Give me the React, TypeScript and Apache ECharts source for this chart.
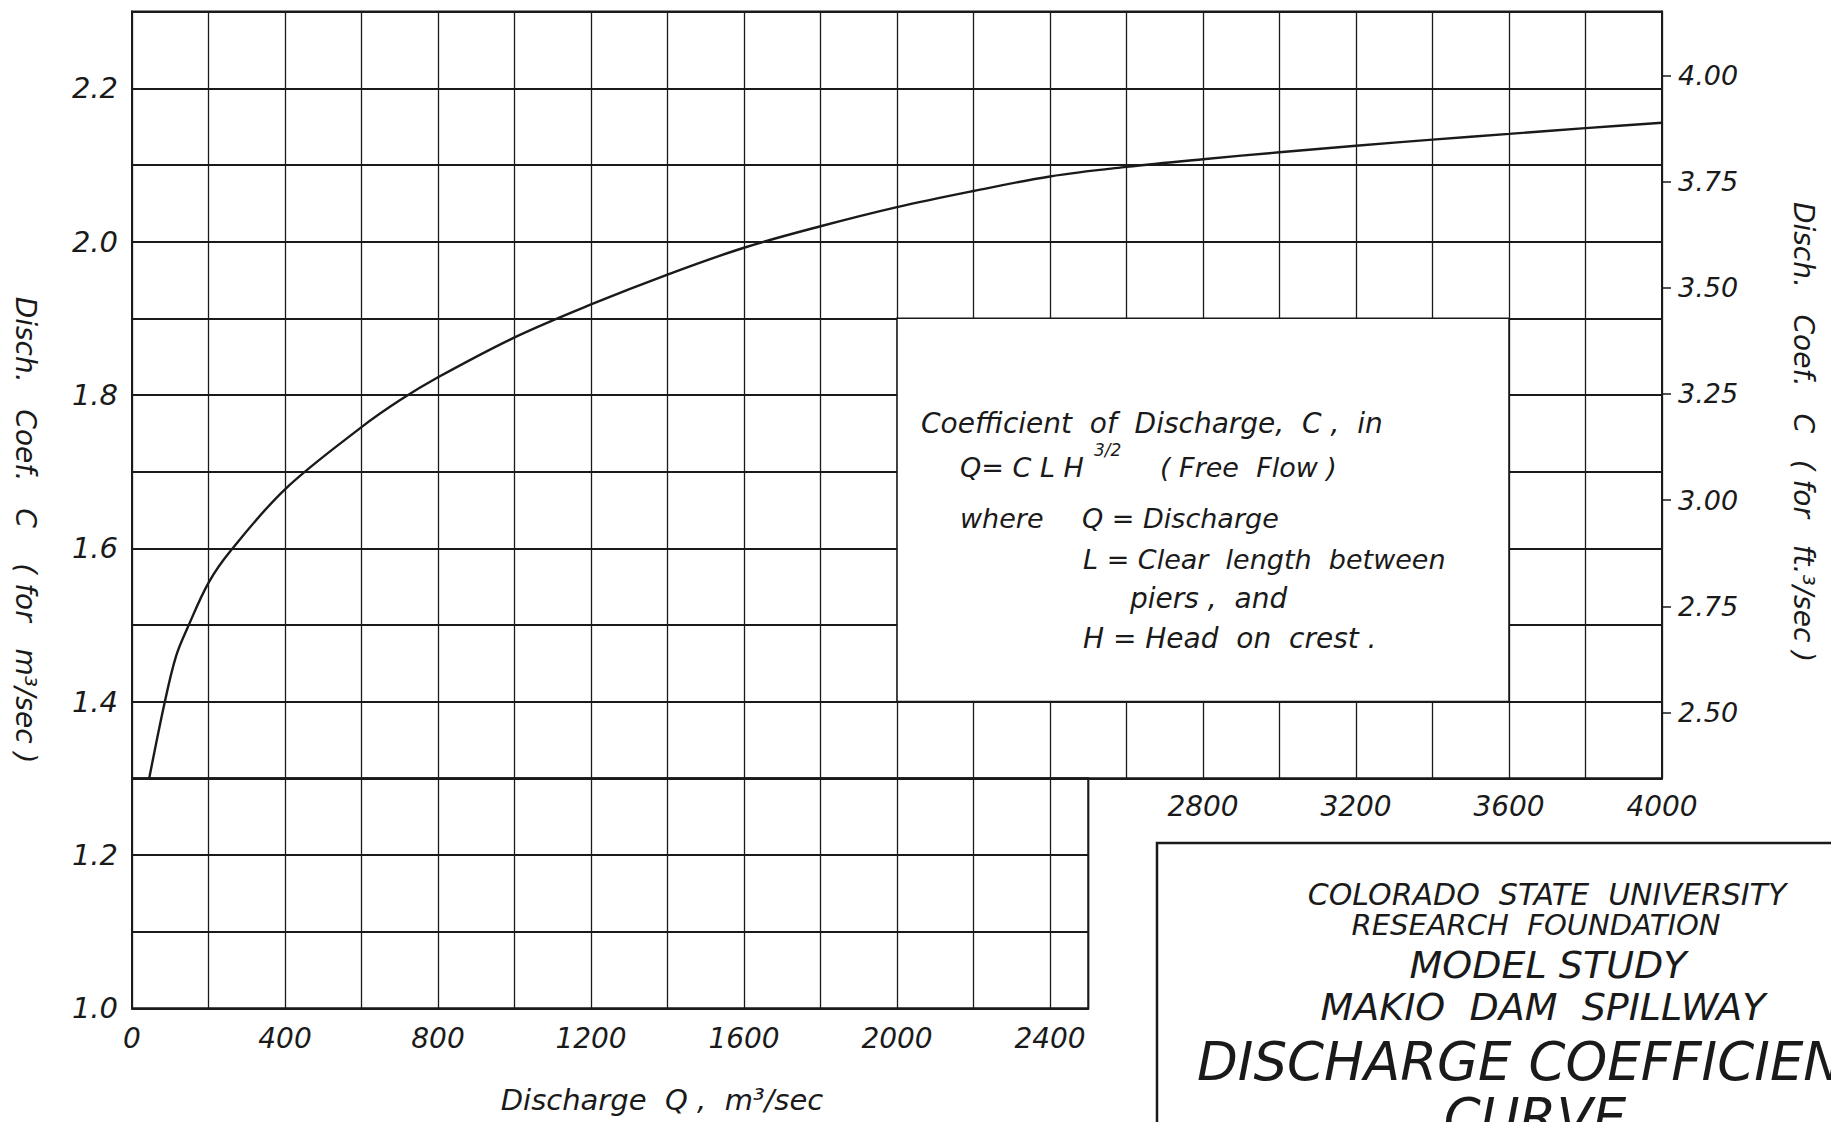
import React, { useEffect, useRef } from "react";
import * as echarts from "echarts";

// ---- data ----
const curveQ = [45, 85, 115, 145, 200, 260, 400, 600, 700, 800, 1000, 1200, 1400, 1600, 1800, 2000, 2200, 2400, 2600, 2800, 3000, 3200, 3400, 3600, 3800, 4000];
const curveC = [1.3, 1.398, 1.459, 1.496, 1.555, 1.598, 1.677, 1.758, 1.793, 1.823, 1.875, 1.918, 1.957, 1.992, 2.02, 2.045, 2.066, 2.085, 2.0975, 2.1075, 2.1165, 2.125, 2.133, 2.1405, 2.148, 2.155];

const xTopLabels = [2800, 3200, 3600, 4000];
const xBottomLabels = [0, 400, 800, 1200, 1600, 2000, 2400];
const yUpperLabels = [1.4, 1.6, 1.8, 2.0, 2.2];
const yLowerLabels = [1.0, 1.2];
const yRightTicks = [2.5, 2.75, 3.0, 3.25, 3.5, 3.75, 4.0];
const rightRange = [2.345, 4.15];
const legendBoxQ = [2000, 3600];
const legendBoxC = [1.4, 1.9];

const INK = "#1a1a1a";
const FONT = "'DejaVu Sans', 'Liberation Sans', sans-serif";

const lbl = (size: number) => ({
  fontFamily: FONT,
  fontStyle: "italic" as const,
  fontSize: size,
  color: INK,
});

function txt(x: number, y: number, text: string, size: number, align = "left", rotation = 0) {
  return {
    type: "text",
    x,
    y,
    rotation,
    z: 20,
    style: {
      text,
      fill: INK,
      font: `italic ${size}px ${FONT}`,
      textAlign: align,
      textVerticalAlign: "middle",
      align,
      verticalAlign: "middle",
    },
  };
}

export default function App() {
  const ref = useRef<HTMLDivElement>(null);
  useEffect(() => {
    document.body.style.margin = "0";
    const chart = echarts.init(ref.current!, null, { renderer: "svg" });
    const splitX = { show: true, lineStyle: { color: INK, width: 1.3 } };
    const splitY = { show: true, lineStyle: { color: INK, width: 2 } };
    const axLine = { show: true, lineStyle: { color: INK, width: 2 } };
    chart.setOption({
      animation: false,
      backgroundColor: "#ffffff",
      grid: [
        { left: 132, top: 11.6, width: 1530, height: 766.7, show: true, borderColor: INK, borderWidth: 2 },
        { left: 132, top: 778.3, width: 956.25, height: 230, show: true, borderColor: INK, borderWidth: 2 },
      ],
      xAxis: [
        {
          type: "value", gridIndex: 0, min: 0, max: 4000, interval: 200,
          axisLine: axLine, axisTick: { show: false },
          axisLabel: { ...lbl(28), margin: 14, formatter: (v: number) => (xTopLabels.includes(v) ? String(v) : "") },
          splitLine: splitX,
        },
        {
          type: "value", gridIndex: 1, min: 0, max: 2500, interval: 200,
          axisLine: axLine, axisTick: { show: false },
          axisLabel: { ...lbl(28), margin: 16, formatter: (v: number) => (xBottomLabels.includes(v) ? String(v) : "") },
          splitLine: splitX,
        },
      ],
      yAxis: [
        {
          type: "value", gridIndex: 0, min: 1.3, max: 2.3, interval: 0.1,
          axisLine: axLine, axisTick: { show: false },
          axisLabel: {
            ...lbl(29), margin: 14,
            formatter: (v: number) => {
              const r = Math.round(v * 10) / 10;
              return yUpperLabels.some((t) => Math.abs(t - r) < 1e-6) ? r.toFixed(1) : "";
            },
          },
          splitLine: splitY,
        },
        {
          type: "value", gridIndex: 0, position: "right", min: rightRange[0], max: rightRange[1],
          axisLine: axLine,
          axisTick: { show: true, inside: false, length: 9, customValues: yRightTicks, lineStyle: { color: INK, width: 1.5 } },
          axisLabel: { ...lbl(27), margin: 16, customValues: yRightTicks, formatter: (v: number) => v.toFixed(2) },
          splitLine: { show: false },
        },
        {
          type: "value", gridIndex: 1, min: 1.0, max: 1.3, interval: 0.1,
          axisLine: axLine, axisTick: { show: false },
          axisLabel: {
            ...lbl(29), margin: 14,
            formatter: (v: number) => {
              const r = Math.round(v * 10) / 10;
              return yLowerLabels.some((t) => Math.abs(t - r) < 1e-6) ? r.toFixed(1) : "";
            },
          },
          splitLine: splitY,
        },
      ],
      series: [
        {
          type: "line",
          xAxisIndex: 0,
          yAxisIndex: 0,
          data: curveQ.map((q, i) => [q, curveC[i]]),
          smooth: 0.35,
          showSymbol: false,
          lineStyle: { color: INK, width: 2.4 },
          z: 5,
        },
      ],
    });

    const p1 = chart.convertToPixel({ seriesIndex: 0 }, [legendBoxQ[0], legendBoxC[1]]) as number[];
    const p2 = chart.convertToPixel({ seriesIndex: 0 }, [legendBoxQ[1], legendBoxC[0]]) as number[];

    chart.setOption({
      graphic: [
        {
          type: "rect", z: 10,
          shape: { x: p1[0], y: p1[1], width: p2[0] - p1[0], height: p2[1] - p1[1] },
          style: { fill: "#ffffff", stroke: INK, lineWidth: 1.6 },
        },
        txt(921, 423, "Coefficient  of  Discharge,  C ,  in", 28),
        txt(960, 467, "Q= C L H", 27),
        txt(1094, 450, "3/2", 17),
        txt(1160, 467, "( Free  Flow )", 27),
        txt(960, 518, "where", 27),
        txt(1082, 518, "Q = Discharge", 27),
        txt(1083, 559, "L = Clear  length  between", 27),
        txt(1130, 598, "piers ,  and", 28),
        txt(1083, 638, "H = Head  on  crest .", 28),

        // axis titles
        txt(25, 530, "Disch.   Coef.   C    ( for   m³/sec )", 28, "center", -Math.PI / 2),
        txt(1803, 432, "Disch.   Coef.   C   ( for   ft.³/sec )", 28, "center", -Math.PI / 2),
        txt(662, 1100, "Discharge  Q ,  m³/sec", 29, "center"),

        // title block
        {
          type: "rect", z: 10,
          shape: { x: 1157, y: 843, width: 800, height: 400 },
          style: { fill: "#ffffff", stroke: INK, lineWidth: 2.5 },
        },
        txt(1547, 894, "COLORADO  STATE  UNIVERSITY", 30, "center"),
        txt(1536, 925, "RESEARCH  FOUNDATION", 29, "center"),
        txt(1548, 965, "MODEL STUDY", 38, "center"),
        txt(1543, 1007, "MAKIO  DAM  SPILLWAY", 38, "center"),
        txt(1197, 1061, "DISCHARGE COEFFICIENT", 53, "left"),
        txt(1535, 1117, "CURVE", 53, "center"),
      ],
    });
    return () => chart.dispose();
  }, []);
  return <div ref={ref} style={{ position: "absolute", left: 0, top: 0, width: 1831, height: 1122 }} />;
}
